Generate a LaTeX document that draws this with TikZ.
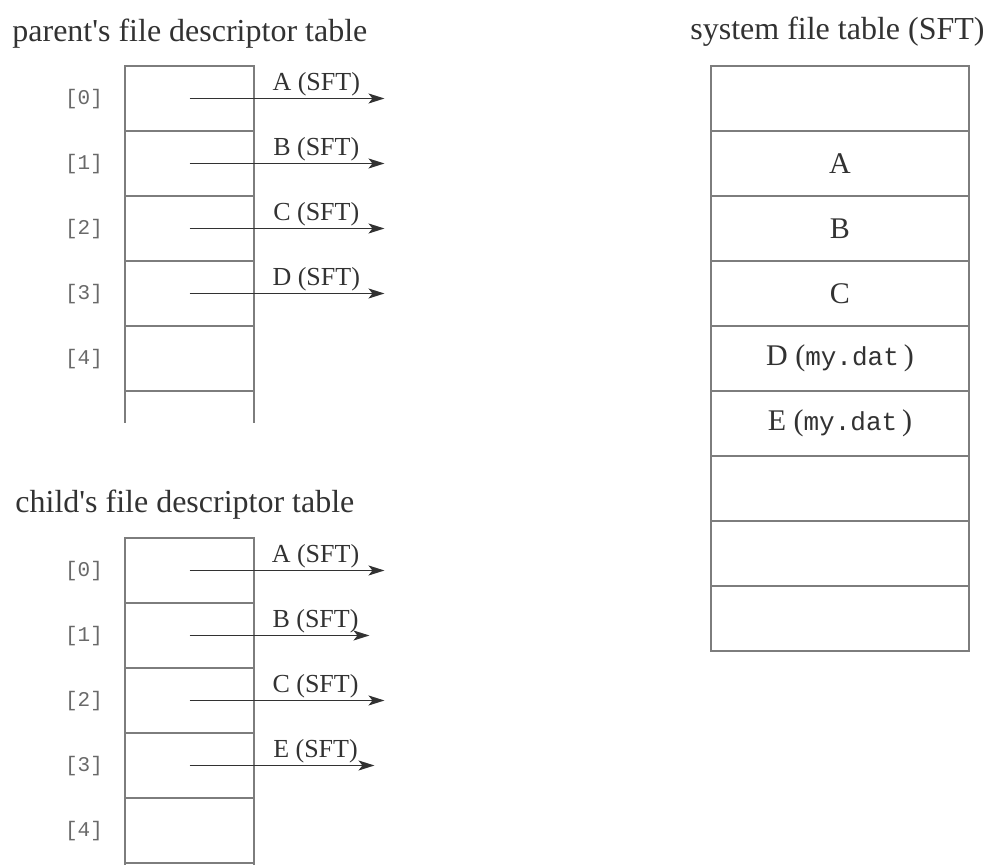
\documentclass[tikz,border=0pt]{standalone}
\usepackage{fontspec}
\setmainfont{Liberation Serif}
\setmonofont{Liberation Mono}
\usetikzlibrary{arrows.meta}

\definecolor{linegray}{RGB}{125,125,125}
\definecolor{textgray}{RGB}{50,50,50}
\definecolor{idxgray}{RGB}{105,105,105}

\begin{document}
\begin{tikzpicture}[x=0.5pt,y=-0.5pt,
    cell/.style={draw=linegray, line width=0.8pt, minimum width=64.5pt, minimum height=32.5pt, inner sep=0pt, outer sep=0pt},
    sftcell/.style={cell, minimum width=129pt, font=\fontsize{15}{18}\selectfont, text=textgray},
    idx/.style={anchor=east, font=\ttfamily\fontsize{10.5}{12}\selectfont, text=idxgray},
    ptr/.style={-{Stealth[length=8pt,width=5pt,inset=2pt]}, draw=textgray, line width=0.9pt},
    ptrlabel/.style={above, font=\fontsize{13}{15}\selectfont, text=textgray, inner sep=0.8pt},
    title/.style={anchor=base west, font=\fontsize{16}{19}\selectfont, text=textgray, inner sep=0pt}]
    \useasboundingbox (0,0) rectangle (993,865);

    % titles
    \node[title] (ptitle) at (12,42) {parent\textquotesingle s file descriptor table};
    \node[title] (ctitle) at (15,513) {child\textquotesingle s file descriptor table};
    \node[title] (stitle) at (690,40) {system file table (SFT)};

    % parent's table
    \foreach \i in {0,...,4} {
        \node[cell] (p\i) at (189.5,{98.5+65*\i}) {};
        \node[idx] (pl\i) at (110,{99.5+65*\i}) {[\i]};
    }
    \draw[linegray, line width=0.8pt] (p4.south west) -- ++(0,32) (p4.south east) -- ++(0,32);
    \foreach \i/\t in {0/A,1/B,2/C,3/D}
        \draw[ptr] (p\i.center) -- node[ptrlabel, pos=0.65] {\t{} (SFT)} ++(195,0) coordinate (pe\i);

    % child's table
    \foreach \i in {0,...,4} {
        \node[cell] (c\i) at (189.5,{570.5+65*\i}) {};
        \node[idx] (cl\i) at (110,{571.5+65*\i}) {[\i]};
    }
    \draw[linegray, line width=0.8pt] (c4.south west) -- ++(0,5) (c4.south east) -- ++(0,5);
    \foreach \i/\t/\len in {0/A/195,1/B/180,2/C/195,3/E/185}
        \draw[ptr] (c\i.center) -- node[ptrlabel, pos={126/\len}] {\t{} (SFT)} ++(\len,0) coordinate (ce\i);

    % system file table
    \foreach \i/\t in {0/{},1/A,2/B,3/C,4/{D~(\texttt{\fontsize{13}{15}\selectfont my.dat}\,)},5/{E~(\texttt{\fontsize{13}{15}\selectfont my.dat}\,)},6/{},7/{},8/{}}
        \node[sftcell] (s\i) at (840,{98.5+65*\i}) {\t};
\end{tikzpicture}
\end{document}
